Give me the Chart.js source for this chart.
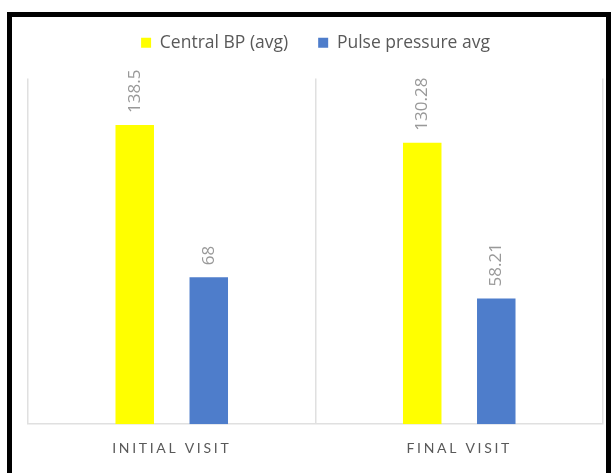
<!DOCTYPE html>
<html>
<head>
<meta charset="utf-8">
<script src="https://cdn.jsdelivr.net/npm/chart.js@4.4.1/dist/chart.umd.min.js"></script>
<style>
    body { margin: 0; background: #fff; }
    #wrap { position: relative; width: 612px; height: 473px; overflow: hidden; }
    #frame {
        position: absolute; left: 7px; top: 12px; width: 594px; height: 480px;
        border: 5px solid #000; border-bottom: none; pointer-events: none;
    }
    canvas { position: absolute; left: 0; top: 0; }
</style>
</head>
<body>
<div id="wrap">
    <canvas id="chart" width="612" height="473"></canvas>
    <div id="frame"></div>
</div>
<script>
const categories = ['INITIAL VISIT', 'FINAL VISIT'];
const centralBP = [138.5, 130.28];
const pulsePressure = [68, 58.21];
const seriesNames = ['Central BP (avg)', 'Pulse pressure avg'];

// tweak the space under the legend
const legendGap = {
    id: 'legendGap',
    beforeInit(chart) {
        const fit = chart.legend.fit;
        chart.legend.fit = function () {
            fit.bind(chart.legend)();
            this.height += 17;
        };
    }
};

// spaced-out category labels
const spacedTicks = {
    id: 'spacedTicks',
    afterLayout(chart) {
        const s = chart.scales.x;
        if (s._spaced) return;
        const orig = s.drawLabels.bind(s);
        s.drawLabels = function (area) {
            this.ctx.save();
            this.ctx.letterSpacing = '2.7px';
            orig(area);
            this.ctx.restore();
        };
        s._spaced = true;
    }
};

// rotated value labels above bars
const valueLabels = {
    id: 'valueLabels',
    afterDatasetsDraw(chart) {
        const ctx = chart.ctx;
        ctx.save();
        ctx.font = '17px "Open Sans"';
        ctx.fillStyle = '#999999';
        ctx.textAlign = 'left';
        ctx.textBaseline = 'middle';
        chart.data.datasets.forEach((ds, i) => {
            chart.getDatasetMeta(i).data.forEach((bar, j) => {
                ctx.save();
                ctx.translate(bar.x, bar.y - 12);
                ctx.rotate(-Math.PI / 2);
                ctx.fillText(String(ds.data[j]), 0, 0);
                ctx.restore();
            });
        });
        ctx.restore();
    }
};

const ctx = document.getElementById('chart').getContext('2d');
new Chart(ctx, {
    type: 'bar',
    data: {
        labels: categories,
        datasets: [{
            label: seriesNames[0],
            data: centralBP,
            backgroundColor: '#ffff00'
        }, {
            label: seriesNames[1],
            data: pulsePressure,
            backgroundColor: '#4e7dcb'
        }]
    },
    options: {
        responsive: false,
        animation: false,
        layout: { padding: { left: 28, right: 9, top: 4, bottom: 0 } },
        datasets: {
            bar: { categoryPercentage: 0.515, barPercentage: 0.52 }
        },
        plugins: {
            tooltip: { enabled: false },
            legend: {
                position: 'top',
                labels: {
                    boxWidth: 10,
                    boxHeight: 10,
                    padding: 30,
                    color: '#595959',
                    font: { family: 'Open Sans', size: 17.5 }
                }
            }
        },
        scales: {
            x: {
                grid: { color: '#e0e0e0', lineWidth: 1.5, drawTicks: false, offset: true },
                border: { color: '#e0e0e0', width: 1.5 },
                ticks: {
                    padding: 16,
                    color: '#595959',
                    font: { family: 'Lato', size: 14 }
                }
            },
            y: {
                display: false,
                min: 0,
                max: 160
            }
        }
    },
    plugins: [legendGap, spacedTicks, valueLabels]
});
</script>
</body>
</html>
